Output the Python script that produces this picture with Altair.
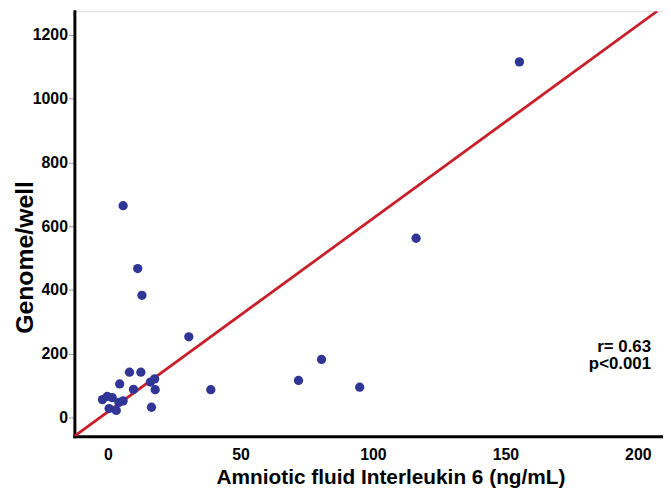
import altair as alt
import pandas as pd

# Data
il6 = [155.3, 116.3, 5.7, 11.2, 12.8, 30.5, 80.6, 71.9, 95.0, 8.1, 12.4, 4.4, 16.0,
       17.6, 9.6, 17.8, 38.8, 16.4, -2.1, -0.3, 1.6, 5.7, 4.1, 0.4, 3.1]
genome = [1115, 562, 664, 467, 383, 253, 182, 116, 95, 142, 142, 105, 111,
          121, 88, 87, 87, 32, 56, 66, 62, 52, 47, 28, 22]

fit_x = [-12.7, 207.3]
fit_y = [-59, 1274]

ann_text = ["r= 0.63", "p<0.001"]
ann_x = [205, 205]
ann_y = [206, 152]

x_ticks = [0, 50, 100, 150, 200]
y_ticks = [0, 200, 400, 600, 800, 1000, 1200]
x_domain = [-12.7, 209.5]
y_domain = [-59, 1274]

FONT = "Liberation Sans, Arial, sans-serif"

pts = pd.DataFrame({"x": il6, "y": genome})
fit = pd.DataFrame({"x": fit_x, "y": fit_y})
ann = pd.DataFrame({"t": ann_text, "x": ann_x, "y": ann_y})

xscale = alt.Scale(domain=x_domain, nice=False, zero=False)
yscale = alt.Scale(domain=y_domain, nice=False, zero=False)

xaxis = alt.Axis(
    title="Amniotic fluid Interleukin 6 (ng/mL)", values=x_ticks, grid=False, format="d",
    domainColor="black", domainWidth=3, domainCap="square",
    ticks=True, tickSize=0, tickColor="transparent",
    labelFont=FONT, labelFontSize=16, labelFontWeight="bold", labelColor="black",
    labelPadding=10,
    titleFont=FONT, titleFontSize=21, titleFontWeight="bold", titleColor="black",
    titleX=319, titleY=48, titleAlign="center", titleBaseline="alphabetic",
)
yaxis = alt.Axis(
    title="Genome/well", values=y_ticks, grid=False, format="d",
    domainColor="black", domainWidth=3, domainCap="square",
    tickSize=6, tickColor="#999999", tickWidth=1,
    labelFont=FONT, labelFontSize=16, labelFontWeight="bold", labelColor="black",
    labelPadding=1,
    titleFont=FONT, titleFontSize=25, titleFontWeight="bold", titleColor="black",
    titleX=-42, titleY=248, titleAlign="center", titleBaseline="alphabetic", titleAngle=270,
)

line = alt.Chart(fit).mark_line(color="#c8202a", strokeWidth=2.8, clip=True).encode(
    x=alt.X("x:Q", scale=xscale, axis=xaxis),
    y=alt.Y("y:Q", scale=yscale, axis=yaxis),
)

points = alt.Chart(pts).mark_circle(size=88, color="#303596", opacity=1).encode(
    x=alt.X("x:Q", scale=xscale),
    y=alt.Y("y:Q", scale=yscale),
)

text = alt.Chart(ann).mark_text(
    align="right", baseline="alphabetic", font=FONT, fontSize=17,
    fontWeight="bold", color="black"
).encode(
    x=alt.X("x:Q", scale=xscale),
    y=alt.Y("y:Q", scale=yscale),
    text="t:N",
)

chart = alt.layer(line, points, text).properties(
    width=594, height=429,
    autosize=alt.AutoSizeParams(type="none"),
    padding={"left": 67, "top": 1, "right": 0, "bottom": 50},
).configure_view(stroke=None).configure(background="white")

chart.save("out.html", embed_options={"renderer": "svg", "actions": False})
